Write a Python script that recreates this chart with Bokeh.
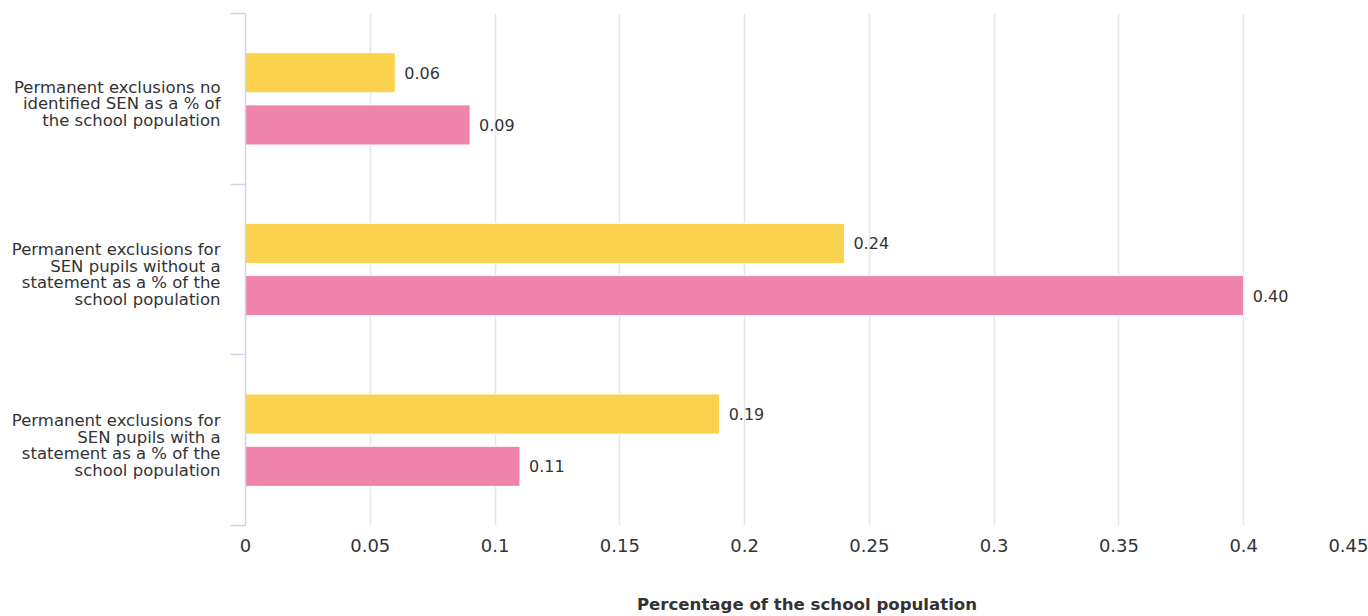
from bokeh.plotting import figure
from bokeh.models import ColumnDataSource, Range1d, FixedTicker
from bokeh.core.properties import value
from bokeh.embed import file_html
from bokeh.resources import INLINE

# ---- data ----
categories = [
    "Permanent exclusions no\nidentified SEN as a % of\nthe school population",
    "Permanent exclusions for\nSEN pupils without a\nstatement as a % of the\nschool population",
    "Permanent exclusions for\nSEN pupils with a\nstatement as a % of the\nschool population",
]
series_yellow = [0.06, 0.24, 0.19]
series_pink = [0.09, 0.40, 0.11]
x_ticks = [0, 0.05, 0.1, 0.15, 0.2, 0.25, 0.3, 0.35, 0.4, 0.45]
x_tick_labels = ["0", "0.05", "0.1", "0.15", "0.2", "0.25", "0.3", "0.35", "0.4", "0.45"]
x_title = "Percentage of the school population"

FONT = "DejaVu Sans"
TXT = "#333333"
YELLOW = "#FBD24E"
PINK = "#EF83AC"

centers = [i + 0.5 for i in range(len(categories))]
off = 0.153
bar_h = 0.235
label_shift = 0.03  # category labels sit slightly below the category centre

src_y = ColumnDataSource(dict(y=[c - off for c in centers], v=series_yellow,
                              lab=["%.2f" % v for v in series_yellow]))
src_p = ColumnDataSource(dict(y=[c + off for c in centers], v=series_pink,
                              lab=["%.2f" % v for v in series_pink]))

p = figure(width=1368, height=616, output_backend="svg", toolbar_location=None,
           x_range=Range1d(0, 0.45), y_range=Range1d(len(categories), 0),
           min_border_left=245, min_border_right=0, min_border_top=13, min_border_bottom=91)
p.outline_line_color = None
p.background_fill_color = "white"

p.hbar(y="y", left=0, right="v", height=bar_h, source=src_y,
       fill_color=YELLOW, line_color="white", line_width=1)
p.hbar(y="y", left=0, right="v", height=bar_h, source=src_p,
       fill_color=PINK, line_color="white", line_width=1)

for s in (src_y, src_p):
    p.text(x="v", y="y", text="lab", source=s, x_offset=9,
           text_baseline="middle", text_align="left",
           text_font=value(FONT), text_font_size="16px", text_color=TXT)

# x axis
xa = p.xaxis[0]
xa.ticker = FixedTicker(ticks=x_ticks)
xa.major_label_overrides = {t: l for t, l in zip(x_ticks, x_tick_labels)}
xa.axis_line_color = None
xa.major_tick_line_color = None
xa.minor_tick_line_color = None
xa.major_tick_out = 0
xa.minor_tick_out = 0
xa.major_label_standoff = 13
xa.major_label_text_font = FONT
xa.major_label_text_font_size = "18px"
xa.major_label_text_color = TXT
xa.axis_label = x_title
xa.axis_label_text_font = FONT
xa.axis_label_text_font_style = "bold"
xa.axis_label_text_font_size = "16.6px"
xa.axis_label_text_color = TXT
xa.axis_label_standoff = 40

# y axis
label_pos = [c + label_shift for c in centers]
ya = p.yaxis[0]
ya.ticker = FixedTicker(ticks=label_pos, minor_ticks=[0, 1, 2, 3])
ya.major_label_overrides = {c: lab for c, lab in zip(label_pos, categories)}
ya.axis_line_color = "#ccd6eb"
ya.axis_line_width = 1.5
ya.major_tick_out = 0
ya.major_tick_in = 0
ya.major_tick_line_color = None
ya.minor_tick_out = 15
ya.minor_tick_in = 0
ya.minor_tick_line_color = "#ccd6eb"
ya.minor_tick_line_width = 1.5
ya.major_label_standoff = 10
ya.major_label_text_font = FONT
ya.major_label_text_font_size = "16.5px"
ya.major_label_text_color = TXT
ya.major_label_text_line_height = 0.87

p.xgrid.ticker = FixedTicker(ticks=x_ticks[1:])
p.xgrid.grid_line_color = "#e6e6e6"
p.xgrid.grid_line_width = 1.5
p.ygrid.grid_line_color = None

open("out.html", "w").write(file_html(p, INLINE))
